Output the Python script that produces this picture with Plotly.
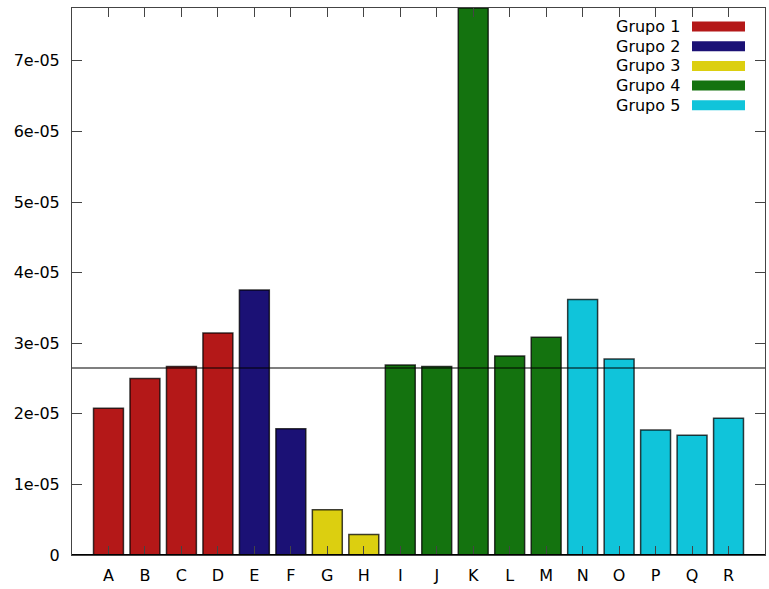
import plotly.graph_objects as go

# Data
categories = ["A", "B", "C", "D", "E", "F", "G", "H", "I",
              "J", "K", "L", "M", "N", "O", "P", "Q", "R"]
values = [2.078e-05, 2.502e-05, 2.672e-05, 3.145e-05, 3.754e-05, 1.790e-05,
          0.640e-05, 0.290e-05, 2.692e-05, 2.672e-05, 7.749e-05, 2.820e-05,
          3.083e-05, 3.619e-05, 2.777e-05, 1.772e-05, 1.696e-05, 1.936e-05]
group_of = [1, 1, 1, 1, 2, 2, 3, 3, 4, 4, 4, 4, 4, 5, 5, 5, 5, 5]
group_names = ["Grupo 1", "Grupo 2", "Grupo 3", "Grupo 4", "Grupo 5"]
group_colors = ["#b41818", "#1b1175", "#dccf10", "#14730f", "#10c4da"]
ytick_vals = [0, 1e-05, 2e-05, 3e-05, 4e-05, 5e-05, 6e-05, 7e-05]
ytick_text = ["0", "1e-05", "2e-05", "3e-05", "4e-05", "5e-05", "6e-05", "7e-05"]

mean_value = sum(values) / len(values)
ymax = max(values)

W, H = 769, 589
ML, MR, MT, MB = 72, 4, 8, 34
FONT = "DejaVu Sans"
FSIZE = 16

fig = go.Figure()
for gi, (name, color) in enumerate(zip(group_names, group_colors), start=1):
    xs = [c for c, g in zip(categories, group_of) if g == gi]
    ys = [v for v, g in zip(values, group_of) if g == gi]
    fig.add_trace(go.Bar(
        x=xs, y=ys, name=name, width=0.82,
        marker=dict(color=color, line=dict(color="rgba(0,0,0,0.75)", width=1.5)),
        showlegend=False, hoverinfo="skip",
    ))

# Mean reference line
fig.add_shape(type="line", xref="paper", yref="y", x0=0, x1=1,
              y0=mean_value, y1=mean_value, line=dict(color="black", width=1.2))

# Zero baseline
fig.add_shape(type="line", xref="paper", yref="y", x0=0, x1=1,
              y0=0, y1=0, line=dict(color="black", width=2))

# Key in the upper right: right-aligned labels with colour strips
plot_w = W - ML - MR
plot_h = H - MT - MB
def px_x(px):
    return (px - ML) / plot_w
def px_y(py):
    return (H - MB - py) / plot_h

for i, (name, color) in enumerate(zip(group_names, group_colors)):
    cy = 26.5 + i * 19.7
    fig.add_annotation(xref="paper", yref="paper", x=px_x(682), y=px_y(cy),
                       text=name, showarrow=False, xanchor="right", yanchor="middle",
                       font=dict(family=FONT, size=FSIZE, color="black"))
    fig.add_shape(type="rect", xref="paper", yref="paper",
                  x0=px_x(692), x1=px_x(745), y0=px_y(cy + 5), y1=px_y(cy - 5),
                  fillcolor=color, line=dict(width=0))

fig.update_layout(
    width=W, height=H,
    margin=dict(l=ML, r=MR, t=MT, b=MB),
    paper_bgcolor="white", plot_bgcolor="white",
    barmode="overlay",
    font=dict(family=FONT, size=FSIZE, color="black"),
    showlegend=False,
)
fig.update_xaxes(
    type="category", categoryorder="array", categoryarray=categories,
    range=[-1, len(categories)],
    showgrid=False, zeroline=False,
    showline=True, linecolor="#444", linewidth=1, mirror="allticks",
    ticks="inside", ticklen=9, tickcolor="#444",
    ticklabelstandoff=6,
    tickfont=dict(family=FONT, size=FSIZE, color="black"),
)
fig.update_yaxes(
    range=[0, ymax], tickvals=ytick_vals, ticktext=ytick_text,
    showgrid=False, zeroline=False,
    showline=True, linecolor="#444", linewidth=1, mirror="allticks",
    ticks="inside", ticklen=10, tickcolor="#444",
    ticklabelstandoff=8,
    tickfont=dict(family=FONT, size=FSIZE, color="black"),
)

fig.write_html("out.html")
